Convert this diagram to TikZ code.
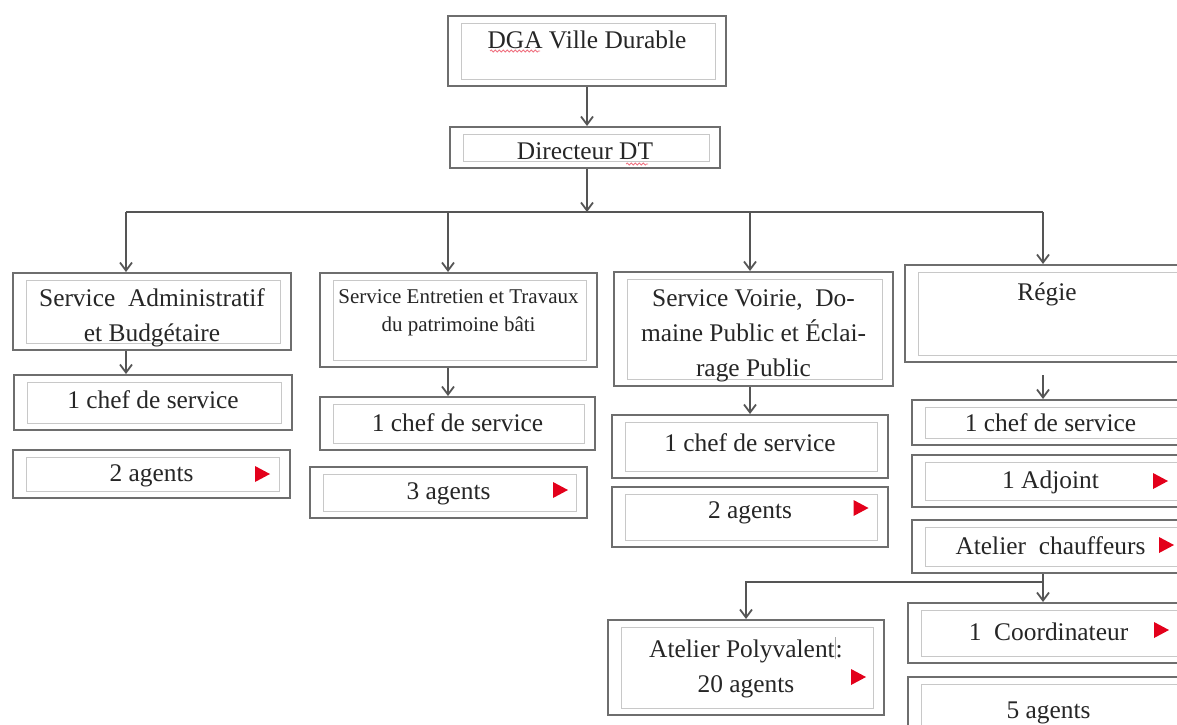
\documentclass[tikz,border=0pt]{standalone}
\usepackage{fontspec}
\setmainfont{Liberation Serif}
\usepackage{xcolor}
\usetikzlibrary{arrows.meta, decorations.pathmorphing}

\definecolor{boxgray}{HTML}{6E6E6E}
\definecolor{innergray}{HTML}{C8C8C8}
\definecolor{linkgray}{HTML}{555555}
\definecolor{markred}{HTML}{E3001B}

\newcommand{\redmark}[1]{\fill[markred] #1 ++(-3.5pt,4pt) -- ++(0,-8pt) -- ++(7.5pt,4pt) -- cycle;}

\tikzset{
  box/.style={draw=boxgray, line width=1pt, fill=white, align=center, inner sep=0pt,
    text=black!85, font=\fontsize{12.7}{17.5}\selectfont, text height=10pt, text depth=2.5pt,
    path picture={\draw[innergray, line width=0.5pt]
      ([shift={(6.5pt,-3.5pt)}]path picture bounding box.north west) rectangle
      ([shift={(-5.5pt,3.5pt)}]path picture bounding box.south east);}},
  multi/.style={text height=, text depth=},
  line/.style={draw=linkgray, line width=0.9pt},
  link/.style={line, -{Straight Barb[length=4pt,width=6pt]}},
  squiggle/.style={draw=markred!55, line width=0.4pt, decorate,
    decoration={snake, amplitude=0.5pt, segment length=2pt}},
}

\begin{document}
\begin{tikzpicture}[x=0.5pt, y=-0.5pt]
  \clip (0,0) rectangle (1177,724);

  % direction
  \node[box, minimum width=139pt, minimum height=35pt, text depth=13pt] (dga) at (587,51) {DGA Ville Durable};
  \node[box, minimum width=135pt, minimum height=20.5pt, text height=14.5pt] (dir) at (585,147.5) {Directeur DT};

  % services
  \node[box, multi, minimum width=139pt, minimum height=38.5pt] (sadm) at (152,311.5) {\rule{0pt}{15pt}Service\ \ Administratif\\et Budgétaire};
  \node[box, multi, minimum width=138.5pt, minimum height=47pt, font=\fontsize{10.5}{14}\selectfont] (sent) at (458.5,320) {Service Entretien et Travaux\\du patrimoine bâti\\[-9pt]\strut};
  \node[box, multi, minimum width=139.5pt, minimum height=57pt] (svoi) at (753.5,329) {\rule{0pt}{15pt}Service Voirie,\ \ Do-\\maine Public et Éclai-\\rage Public};
  \node[box, minimum width=142pt, minimum height=48.5pt, text depth=23pt] (regie) at (1047,313.5) {Régie};

  % Service Administratif et Budgetaire
  \node[box, minimum width=139pt, minimum height=27.5pt, text depth=4pt] (sadmchef) at (153,402.5) {1 chef de service};
  \node[box, minimum width=138.5pt, minimum height=24pt] (sadmag) at (151.5,474) {2 agents};

  % Service Entretien et Travaux
  \node[box, minimum width=137.5pt, minimum height=26.5pt] (sentchef) at (457.5,423.5) {1 chef de service};
  \node[box, minimum width=138.5pt, minimum height=25.5pt, text depth=3.5pt] (sentag) at (448.5,492.5) {3 agents};

  % Service Voirie
  \node[box, minimum width=138pt, minimum height=31.5pt, text depth=5pt] (svoichef) at (750,446.5) {1 chef de service};
  \node[box, minimum width=138pt, minimum height=30pt, text depth=9pt] (svoiag) at (750,517) {2 agents};

  % Regie
  \node[box, minimum width=138.5pt, minimum height=22.5pt, text height=11pt] (rchef) at (1050.5,422.5) {1 chef de service};
  \node[box, minimum width=138.5pt, minimum height=26pt] (radj) at (1050.5,481) {1 Adjoint};
  \node[box, minimum width=138.5pt, minimum height=26.5pt] (rchauf) at (1050.5,546.5) {Atelier\ \ chauffeurs};
  \node[box, multi, minimum width=138pt, minimum height=47.5pt] (poly) at (746,667.5)
    {Atelier Polyvalent{\color{black!35}\rule[-1pt]{0.5pt}{11pt}}:\\20 agents};
  \node[box, minimum width=140.5pt, minimum height=30pt] (coord) at (1048.5,633) {1\ \ Coordinateur};
  \node[box, minimum width=140.5pt, minimum height=34pt] (five) at (1048.5,711) {5 agents};

  % connectors
  \coordinate (hub) at (587,212);
  \coordinate (b1) at (126,212);
  \coordinate (b2) at (448,212);
  \coordinate (b3) at (750,212);
  \coordinate (b4) at (1043,212);
  \coordinate (split) at (1043,582);

  \draw[link] (dga.south) -- (dga.south |- dir.north);
  \draw[link] (dir.south -| hub) -- (hub);
  \draw[line] (b1) -- (b4);
  \draw[link] (b1) -- (b1 |- sadm.north);
  \draw[link] (b2) -- (b2 |- sent.north);
  \draw[link] (b3) -- (b3 |- svoi.north);
  \draw[link] (b4) -- (b4 |- regie.north);

  \draw[link] (sadm.south -| b1) -- (b1 |- sadmchef.north);
  \draw[link] (sent.south -| b2) -- (b2 |- sentchef.north);
  \draw[link] (svoi.south -| b3) -- (b3 |- svoichef.north);
  \draw[link, shorten <=6pt] (regie.south -| b4) -- (b4 |- rchef.north);

  \draw[link] (rchauf.south -| split) -- (split) -| (poly.north);
  \draw[link] (split) -- (split |- coord.north);

  % red marks
  \redmark{([xshift=-14.5pt]sadmag.east)}
  \redmark{([xshift=-14pt,yshift=1.25pt]sentag.east)}
  \redmark{([xshift=-14.25pt,yshift=4.5pt]svoiag.east)}
  \redmark{([xshift=-13.5pt,yshift=-4.75pt]poly.east)}
  \redmark{([xshift=-15pt]radj.east)}
  \redmark{([xshift=-12pt,yshift=0.75pt]rchauf.east)}
  \redmark{([xshift=-14.5pt,yshift=1.5pt]coord.east)}

  % spell-check marks
  \draw[squiggle] (490,51) -- (540,51);
  \draw[squiggle] (626,164) -- (648,164);
\end{tikzpicture}
\end{document}
